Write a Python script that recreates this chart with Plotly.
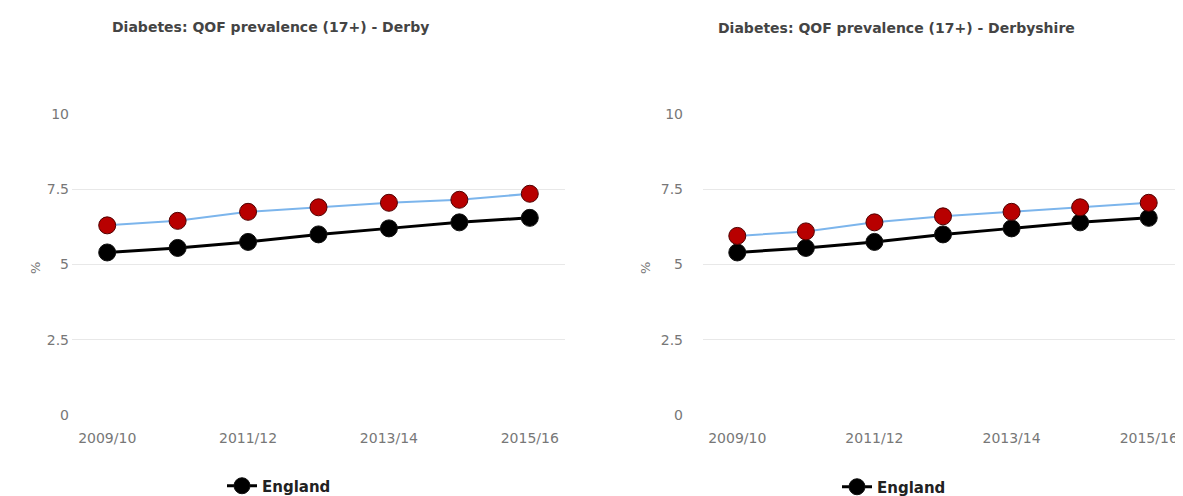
import plotly.graph_objects as go

# data
years = ["2009/10", "2010/11", "2011/12", "2012/13", "2013/14", "2014/15", "2015/16"]
tick_years = ["2009/10", "2011/12", "2013/14", "2015/16"]
derby = [6.3, 6.45, 6.75, 6.9, 7.05, 7.15, 7.35]
derbyshire = [5.95, 6.1, 6.4, 6.6, 6.75, 6.9, 7.05]
england = [5.4, 5.55, 5.75, 6.0, 6.2, 6.4, 6.55]
y_ticks = [0, 2.5, 5, 7.5, 10]
y_labels = ["0", "2.5", "5", "7.5", "10"]

# page body has an 8px margin, figure is sized so it ends at the window edge
FW, FH = 1175, 488

def sx(v):
    # screen x pixel -> paper fraction
    return (v - 8) / FW

def sy(v):
    # screen y pixel -> paper fraction
    return 1 - (v - 8) / FH

fig = go.Figure()

def add_pair(local, name, xa, ya, leg):
    # england under the local series
    fig.add_trace(go.Scatter(x=years, y=england, mode="lines+markers", name="England",
                             line=dict(color="black", width=3),
                             marker=dict(color="black", size=17, line=dict(color="#111", width=1)),
                             xaxis=xa, yaxis=ya, legend=leg, cliponaxis=False))
    fig.add_trace(go.Scatter(x=years, y=local, mode="lines+markers", name=name,
                             line=dict(color="#7cb5ec", width=2),
                             marker=dict(color="#b80000", size=17, line=dict(color="#500000", width=1)),
                             xaxis=xa, yaxis=ya, showlegend=False, cliponaxis=False))

add_pair(derby, "Derby", "x", "y", "legend")
add_pair(derbyshire, "Derbyshire", "x2", "y2", "legend2")

tickfont = dict(family="DejaVu Sans", size=14, color="#777")
xcommon = dict(type="category", tickvals=tick_years, ticktext=tick_years, showgrid=False,
               zeroline=False, showline=False, tickfont=tickfont, ticklabelstandoff=13,
               fixedrange=True)
ycommon = dict(range=[0, 10], tickvals=y_ticks, ticktext=y_labels,
               showgrid=True, gridcolor="#e8e8e8", gridwidth=1, zeroline=False,
               tickfont=tickfont, fixedrange=True)

ydom = [sy(415), sy(114)]
legfont = dict(family="DejaVu Sans", size=15, color="#222", weight="bold")

fig.update_layout(
    template="none",
    width=FW, height=FH,
    margin=dict(l=0, r=0, t=0, b=0, autoexpand=False),
    paper_bgcolor="white", plot_bgcolor="white",
    xaxis=dict(xcommon, domain=[sx(72), sx(565)], range=[-0.5, 6.5], anchor="y"),
    yaxis=dict(ycommon, domain=ydom, anchor="x", ticklabelstandoff=2),
    xaxis2=dict(xcommon, domain=[sx(703), 1.0], range=[-0.5, 6.5], anchor="y2"),
    yaxis2=dict(ycommon, domain=ydom, anchor="x2", ticklabelstandoff=19),
    legend=dict(x=sx(222), y=sy(486), xanchor="left", yanchor="middle",
                font=legfont, bgcolor="rgba(0,0,0,0)"),
    legend2=dict(x=sx(837), y=sy(487), xanchor="left", yanchor="middle",
                 font=legfont, bgcolor="rgba(0,0,0,0)"),
    showlegend=True,
)

titlefont = dict(family="DejaVu Sans", size=14, color="#444")
fig.add_annotation(text="<b>Diabetes: QOF prevalence (17+) - Derby</b>", xref="paper", yref="paper",
                   x=sx(110), y=sy(27), xanchor="left", yanchor="middle",
                   showarrow=False, font=titlefont)
fig.add_annotation(text="<b>Diabetes: QOF prevalence (17+) - Derbyshire</b>", xref="paper", yref="paper",
                   x=sx(716), y=sy(28), xanchor="left", yanchor="middle",
                   showarrow=False, font=titlefont)
for xp in (35, 645):
    fig.add_annotation(text="%", xref="paper", yref="paper", x=sx(xp), y=sy(268),
                       xanchor="center", yanchor="middle", textangle=-90, showarrow=False,
                       font=dict(family="DejaVu Sans", size=13, color="#777"))

fig.write_html("out.html")
